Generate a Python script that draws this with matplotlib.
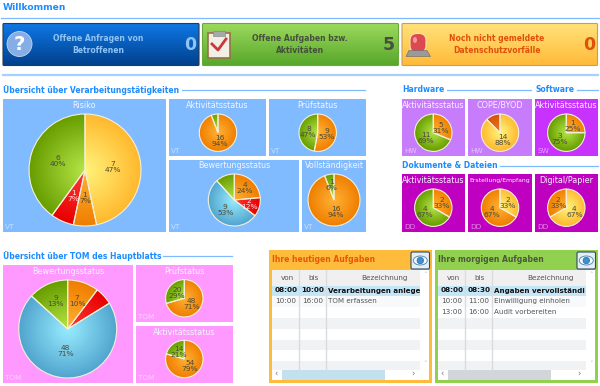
import numpy as np
import matplotlib
matplotlib.use("Agg")
import matplotlib.pyplot as plt
from matplotlib.colors import LinearSegmentedColormap
from matplotlib.patches import Rectangle, FancyBboxPatch, Circle, Ellipse, Polygon

# === Daten ===
risiko = [7, 1, 1, 6]
vt_aktivitaet = [16, 1]
vt_pruef = [9, 8]
vt_bewertung = [4, 2, 9, 2]
vt_vollstaendig = [16, 1]
hw_aktivitaet = [5, 11]
hw_cope = [14, 2]
sw_aktivitaet = [1, 3]
dd_aktivitaet = [2, 4]
dd_erstellung = [2, 4]
dd_digital = [4, 2]
tom_bewertung = [7, 4, 48, 9]
tom_pruef = [48, 20]
tom_aktivitaet = [54, 14]

kacheln = ["Offene Anfragen von\nBetroffenen", "Offene Aufgaben bzw.\nAktivitäten",
           "Noch nicht gemeldete\nDatenschutzvorfälle"]
kachel_werte = [0, 5, 0]

heute_von = ["08:00", "10:00"]
heute_bis = ["10:00", "16:00"]
heute_name = ["Verarbeitungen anlege", "TOM erfassen"]
morgen_von = ["08:00", "10:00", "13:00"]
morgen_bis = ["08:30", "11:00", "16:00"]
morgen_name = ["Angaben vervollständi", "Einwilligung einholen", "Audit vorbereiten"]

# === Farben ===
BLAU_TEXT = "#1c8cff"
LINIE = "#7dbaff"
VERLAEUFE = {
    "gelb": ("#fff47c", "#ffb92e"),
    "orange": ("#ffb234", "#f07e00"),
    "rot": ("#ff3a3a", "#e80000"),
    "gruen": ("#b6e648", "#689e00"),
    "blau": ("#98ecff", "#52a6cf"),
    "dunkel": ("#ef7a18", "#d4500c"),
}

fig = plt.figure(figsize=(6, 3.86), dpi=100)
ax = fig.add_axes([0, 0, 1, 1])
ax.set_xlim(0, 600)
ax.set_ylim(386, 0)


def verlauf(farbe1, farbe2):
    return LinearSegmentedColormap.from_list("v", [farbe1, farbe2])


def kopf(text, x, y, x1, x2, size=5.5):
    ax.text(x, y, text, color=BLAU_TEXT, fontsize=size, fontweight="bold", va="center", ha="left")
    ax.plot([x1, x2], [y, y], color=LINIE, lw=0.9)


def tile(x0, y0, x1, y1, farbe, titel, kuerzel, size=5.8):
    ax.add_patch(Rectangle((x0, y0), x1 - x0, y1 - y0, fc=farbe, ec="none", zorder=1))
    ax.text((x0 + x1) / 2, y0 + 6.5, titel, color="#f8f2ff", fontsize=size, ha="center", va="center", zorder=5)
    ax.text(x0 + 2, y1 - 5, kuerzel, color="#ffffff", alpha=0.55, fontsize=5.2, ha="left", va="center", zorder=5)


def kuchen(werte, farben, cx, cy, r, versteckt=(), abstand=None, size=5.4):
    wedges, _ = ax.pie(werte, colors=["none"] * len(werte), center=(cx, cy), radius=r,
                       startangle=-90, counterclock=True, frame=True,
                       wedgeprops={"edgecolor": "#f3f0d8", "linewidth": 0.8})
    yy, xx = np.mgrid[-1:1:64j, -1:1:64j]
    grad = np.clip(np.sqrt(xx ** 2 + yy ** 2), 0, 1)
    summe = sum(werte)
    for i, w in enumerate(wedges):
        w.set_zorder(3)
        bild = ax.imshow(grad, cmap=verlauf(*VERLAEUFE[farben[i]]), vmin=0, vmax=1, aspect="auto",
                         extent=(cx - r, cx + r, cy + r, cy - r), interpolation="bilinear", zorder=2)
        bild.set_clip_path(w)
        if i in versteckt:
            continue
        winkel = np.deg2rad((w.theta1 + w.theta2) / 2)
        d = abstand[i] if abstand else 0.5
        farbe = "#ffe8e8" if farben[i] == "rot" else "#4a4a3a"
        ax.text(cx + d * r * np.cos(winkel), cy + d * r * np.sin(winkel),
                f"{werte[i]}\n{round(100 * werte[i] / summe)}%", color=farbe, fontsize=size,
                ha="center", va="center", linespacing=1.0, zorder=4)


def knopf(x0, y0, x1, y1, farbe_oben, farbe_unten, rand):
    box = FancyBboxPatch((x0, y0), x1 - x0, y1 - y0, boxstyle="round,pad=0,rounding_size=1",
                         fc="none", ec=rand, lw=0.8, zorder=3)
    ax.add_patch(box)
    bild = ax.imshow(np.linspace(0, 1, 32).reshape(-1, 1), cmap=verlauf(farbe_oben, farbe_unten), aspect="auto",
                     extent=(x0, x1, y1, y0), zorder=2)
    bild.set_clip_path(box)


def tabelle(x0, titel, titel_farbe, rahmen, von, bis, name, scroll):
    ax.add_patch(Rectangle((x0, 250), 163, 133, fc=rahmen, ec="none", zorder=1))
    ax.text(x0 + 3, 259.5, titel, color=titel_farbe, fontsize=5.5, fontweight="bold", va="center", zorder=5)
    # Augen-Knopf
    ax.add_patch(FancyBboxPatch((x0 + 142, 252), 18.5, 17, boxstyle="round,pad=0,rounding_size=1.5",
                                fc="#e4eef4", ec="#2c4a66", lw=0.8, zorder=3))
    ax.add_patch(Ellipse((x0 + 151.3, 260.5), 14, 9, fc="#f4fbff", ec="#5a8fb5", lw=0.7, zorder=4))
    ax.add_patch(Circle((x0 + 151.3, 260.5), 3.3, fc="#3f8fd0", ec="#25608f", lw=0.4, zorder=5))
    # Tabelle
    links = x0 + 3
    ax.add_patch(Rectangle((links, 270), 157, 110, fc="white", ec="none", zorder=2))
    ax.add_patch(Rectangle((links, 270), 148, 15.5, fc="#f0f0f0", ec="none", zorder=2))
    for i in range(8):
        y = 285.5 + i * 10.8
        if i == 0:
            farbe = "#c4e6f7"
        elif i == 1:
            farbe = "#f8f9fa"
        elif i % 2 == 1:
            farbe = "#f0f2f4"
        else:
            farbe = "white"
        hoehe = min(10.8, 370 - y)
        ax.add_patch(Rectangle((links, y), 148, hoehe, fc=farbe, ec="none", zorder=2))
    for x in [links + 26.5, links + 53.5]:
        ax.plot([x, x], [270, 370], color="#d8dcdf", lw=1.0, zorder=3)
    for text, x in [("von", links + 15), ("bis", links + 42)]:
        ax.text(x, 278, text, color="#555555", fontsize=5.2, ha="center", va="center", zorder=5)
    ax.text(links + 113, 278, "Bezeichnung", color="#555555", fontsize=5.2, ha="center", va="center", zorder=5)
    for i in range(len(von)):
        y = 290.5 + i * 10.9
        fett = "bold" if i == 0 else "normal"
        farbe = "#111111" if i == 0 else "#555555"
        ax.text(links + 14, y, von[i], color=farbe, fontsize=5.2, fontweight=fett, ha="center", va="center", zorder=5)
        ax.text(links + 41, y, bis[i], color=farbe, fontsize=5.2, fontweight=fett, ha="center", va="center", zorder=5)
        ax.text(links + 56, y, name[i], color=farbe, fontsize=5.1, fontweight=fett, ha="left", va="center", zorder=5)
    # Scrollbalken
    ax.add_patch(Rectangle((links + 10, 370), 103, 9.5, fc=scroll, ec="none", zorder=3))
    ax.text(links + 4, 374.5, "‹", color="#777777", fontsize=6, ha="center", va="center", zorder=5)
    ax.text(links + 141, 374.5, "›", color="#777777", fontsize=6, ha="center", va="center", zorder=5)
    ax.text(links + 153, 275, "˄", color="#bbbbbb", fontsize=5, ha="center", va="center", zorder=5)
    ax.text(links + 153, 364, "˅", color="#bbbbbb", fontsize=5, ha="center", va="center", zorder=5)


# === Kopfbereich ===
ax.text(3, 7.5, "Willkommen", color=BLAU_TEXT, fontsize=6.6, fontweight="bold", va="center")
ax.plot([1, 600], [17.5, 17.5], color=LINIE, lw=0.9)
ax.plot([3, 598], [75, 75], color="#a6d0ff", lw=1.6)

knopf(3, 23.5, 199, 65.5, "#0e78e6", "#02418e", "#2a3a4a")
knopf(202.5, 23.5, 398.5, 65.5, "#9cd95c", "#58a82c", "#6aa83c")
knopf(402, 23.5, 597.5, 65.5, "#ffe27a", "#ffbb3a", "#c0a060")
kachel_x = [98, 300, 497]
kachel_farbe = ["#8fc4f4", "#46503c", "#e0500a"]
zahl_x = [190, 389, 589]
for i in range(3):
    ax.text(kachel_x[i], 44.5, kacheln[i], color=kachel_farbe[i], fontsize=5.5, fontweight="bold",
            ha="center", va="center", linespacing=1.3, zorder=5)
    ax.text(zahl_x[i], 45, str(kachel_werte[i]), color=kachel_farbe[i], fontsize=12.5, fontweight="bold",
            ha="center", va="center", zorder=5)

# Fragezeichen
ax.add_patch(Circle((19.5, 44), 12.5, fc="#86aee6", ec="#c0d6f2", lw=0.6, zorder=4))
ax.text(19.5, 44, "?", color="white", fontsize=14, fontweight="bold", ha="center", va="center", zorder=5)
# Klemmbrett
ax.add_patch(Rectangle((208, 33), 22, 25, fc="#f2efe6", ec="#9a7048", lw=1.2, zorder=4))
ax.add_patch(Rectangle((213, 30.5), 12, 5, fc="#a8a8a8", ec="#808080", lw=0.4, zorder=5))
ax.plot([212, 218, 226], [44, 50, 39], color="#c8383c", lw=2, zorder=5)
# Warnleuchte
ax.add_patch(FancyBboxPatch((410, 33.5), 16, 19, boxstyle="round,pad=0,rounding_size=7",
                            fc="#dc4a50", ec="#ffe0b0", lw=0.8, zorder=4))
ax.add_patch(Ellipse((415, 40), 4, 6, fc="#f49a98", ec="none", zorder=5))
ax.add_patch(Polygon([[409, 50.5], [427, 50.5], [430.5, 56.5], [406, 56.5]], fc="#9a9a9a", ec="#666666", lw=0.4, zorder=5))

# === Verarbeitungstätigkeiten ===
kopf("Übersicht über Verarbeitungstätigkeiten", 3, 90, 182, 365)
VT = "#80bbff"
tile(3, 99, 166, 232, VT, "Risiko", "VT")
kuchen(risiko, ["gelb", "orange", "rot", "gruen"], 85, 170, 56)
tile(169, 99, 266, 156, VT, "Aktivitätsstatus", "VT")
kuchen(vt_aktivitaet, ["orange", "gruen"], 218, 132.7, 18.7, versteckt=[1], abstand=[0.43, 0.5])
tile(269, 99, 366, 156, VT, "Prüfstatus", "VT")
kuchen(vt_pruef, ["orange", "gruen"], 317.7, 132.7, 18.7)
tile(169, 159.5, 299, 232, VT, "Bewertungsstatus", "VT")
kuchen(vt_bewertung, ["orange", "rot", "blau", "gruen"], 234.3, 200, 26, versteckt=[3], abstand=[0.6, 0.6, 0.52, 0.5])
tile(302, 159.5, 366, 232, VT, "Vollständigkeit", "VT")
kuchen(vt_vollstaendig, ["orange", "gruen"], 334, 200, 26, abstand=[0.47, 0.58])

# === Hardware / Software / Dokumente ===
kopf("Hardware", 402, 90, 447, 531)
kopf("Software", 535, 90, 577, 598)
kopf("Dokumente & Dateien", 402, 165.5, 500, 598)
HW, SW, DD = "#c67cfb", "#c832ff", "#c000c0"
tile(402, 99, 465, 156, HW, "Aktivitätsstatus", "HW")
kuchen(hw_aktivitaet, ["orange", "gruen"], 433.3, 132.7, 18.7)
tile(468, 99, 532, 156, HW, "COPE/BYOD", "HW")
kuchen(hw_cope, ["gelb", "dunkel"], 500, 132.7, 18.7, versteckt=[1], abstand=[0.42, 0.5])
tile(535, 99, 598, 156, SW, "Aktivitätsstatus", "SW")
kuchen(sw_aktivitaet, ["orange", "gruen"], 566.3, 132.7, 18.7)
tile(402, 174, 465, 232, DD, "Aktivitätsstatus", "DD")
kuchen(dd_aktivitaet, ["orange", "gruen"], 433.3, 207.7, 18.7)
tile(468, 174, 532, 232, DD, "Erstellung/Empfang", "DD", size=4.4)
kuchen(dd_erstellung, ["gelb", "orange"], 500, 207.7, 18.7)
tile(535, 174, 598, 232, DD, "Digital/Papier", "DD")
kuchen(dd_digital, ["gelb", "orange"], 566.3, 207.7, 18.7)

# === TOM ===
kopf("Übersicht über TOM des Hauptblatts", 3, 256, 163, 232)
TOM = "#ff99ff"
tile(3, 265, 133, 383, TOM, "Bewertungsstatus", "TOM")
kuchen(tom_bewertung, ["orange", "rot", "blau", "gruen"], 67.7, 329, 49, versteckt=[1], abstand=[0.6, 0.5, 0.46, 0.62])
tile(136, 265, 233, 322, TOM, "Prüfstatus", "TOM")
kuchen(tom_pruef, ["orange", "gruen"], 184.3, 298.3, 18.7)
tile(136, 326, 233, 383, TOM, "Aktivitätsstatus", "TOM")
kuchen(tom_aktivitaet, ["orange", "gruen"], 184.3, 359, 18.7)

# === Aufgaben ===
tabelle(269, "Ihre heutigen Aufgaben", "#e8560a", "#ffbb3c", heute_von, heute_bis, heute_name, "#c2e0ee")
tabelle(435, "Ihre morgigen Aufgaben", "#4a5a3a", "#92d050", morgen_von, morgen_bis, morgen_name, "#d2d6da")

ax.set_xlim(0, 600)
ax.set_ylim(386, 0)
ax.set_aspect("auto")
ax.axis("off")
fig.savefig("out.png", dpi=100)
